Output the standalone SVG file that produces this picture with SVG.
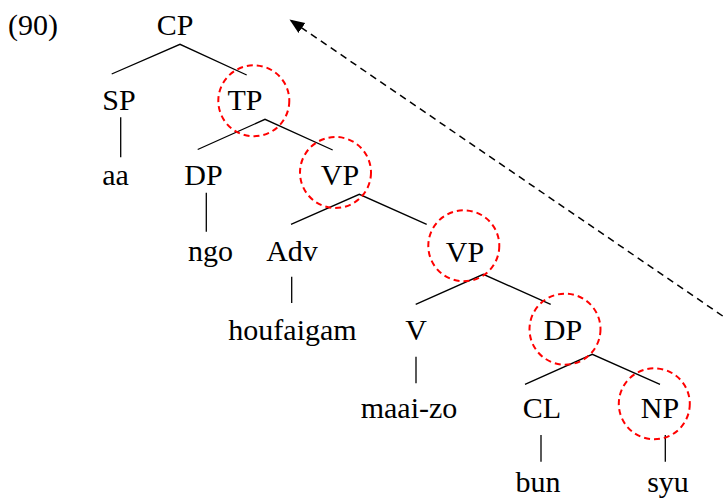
<svg xmlns="http://www.w3.org/2000/svg" width="726" height="499" viewBox="0 0 726 499">
<defs>
<marker id="ah" markerUnits="userSpaceOnUse" markerWidth="16" markerHeight="14" refX="15" refY="6" orient="auto" viewBox="0 0 16 12">
<path d="M0,0 L15,6 L0,12 z" fill="#000"/>
</marker>
</defs>
<style>
.e{stroke:#000;stroke-width:1.3;fill:none}
.c{stroke:#f00;stroke-width:2;stroke-dasharray:6,4;fill:none}
.mv{stroke:#000;stroke-width:1.5;stroke-dasharray:7,5;fill:none}
</style>
<rect width="726" height="499" fill="#fff"/>
<g font-family="Liberation Serif, Times New Roman, serif" font-size="30" fill="#000" text-anchor="middle">
<g id="label"><text x="8" y="35" text-anchor="start">(90)</text></g>
<g id="connectors">
<polyline class="e" points="111.7,74 180,44.3 246.7,75"/>
<polyline class="e" points="197.7,149.5 265,119.3 332.7,150"/>
<polyline class="e" points="291,224.3 359.3,194.3 426.7,224.3"/>
<polyline class="e" points="415.7,304.3 483.3,274.3 550.7,304.3"/>
<polyline class="e" points="525,384.3 592.3,354.3 660,384.3"/>
<line class="e" x1="120.7" y1="117.3" x2="120.7" y2="157.3"/>
<line class="e" x1="206.3" y1="192.7" x2="206.3" y2="231.7"/>
<line class="e" x1="291.7" y1="276.7" x2="291.7" y2="303"/>
<line class="e" x1="416" y1="356.7" x2="416" y2="383.3"/>
<line class="e" x1="541" y1="435" x2="541" y2="461.7"/>
<line class="e" x1="665.3" y1="435" x2="665.3" y2="461.7"/>
<line class="mv" x1="722.7" y1="316" x2="289.5" y2="19.5" marker-end="url(#ah)"/>
</g>
<g id="n-CP"><text x="175" y="35">CP</text></g>
<g id="n-SP"><text x="119" y="110">SP</text></g>
<g id="n-TP"><circle class="c" cx="253.8" cy="100.8" r="35.5"/><text x="245" y="110">TP</text></g>
<g id="n-aa"><text x="115.5" y="185">aa</text></g>
<g id="n-DP1"><text x="203.5" y="185">DP</text></g>
<g id="n-VP1"><circle class="c" cx="335.5" cy="172.5" r="35.5"/><text x="340" y="185">VP</text></g>
<g id="n-ngo"><text x="210.5" y="261">ngo</text></g>
<g id="n-Adv"><text x="292" y="261">Adv</text></g>
<g id="n-VP2"><circle class="c" cx="463.8" cy="245.8" r="35.5"/><text x="465" y="262">VP</text></g>
<g id="n-houfaigam"><text x="292.5" y="340">houfaigam</text></g>
<g id="n-V"><text x="416" y="340">V</text></g>
<g id="n-DP2"><circle class="c" cx="565" cy="329.2" r="35.5"/><text x="563" y="340">DP</text></g>
<g id="n-maaizo"><text x="409" y="418">maai-zo</text></g>
<g id="n-CL"><text x="542" y="418">CL</text></g>
<g id="n-NP"><circle class="c" cx="654.3" cy="403.8" r="35.5"/><text x="660" y="418">NP</text></g>
<g id="n-bun"><text x="538" y="492">bun</text></g>
<g id="n-syu"><text x="668" y="492">syu</text></g>
</g>
</svg>
